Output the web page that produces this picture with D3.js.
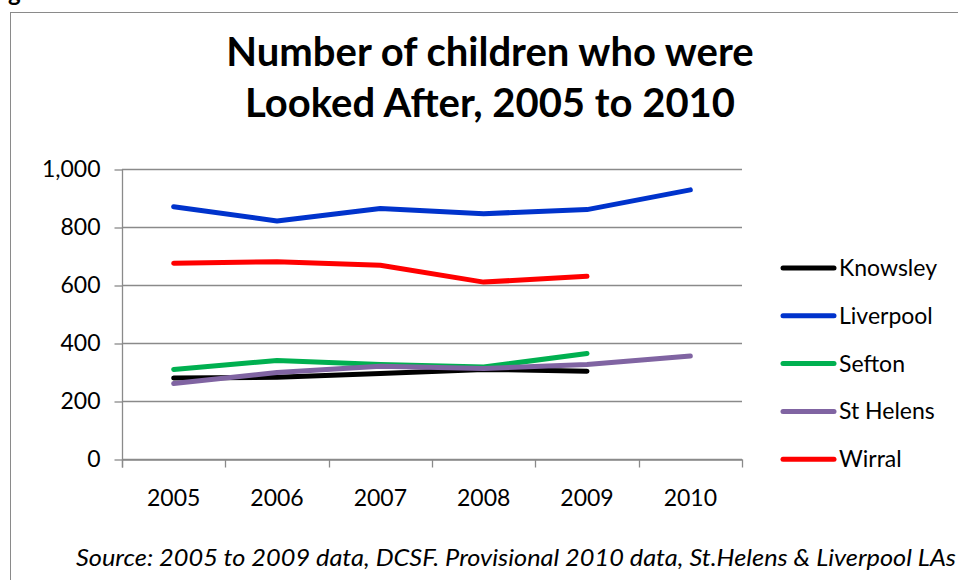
<!DOCTYPE html>
<html>
<head>
<meta charset="utf-8">
<title>Number of children who were Looked After</title>
<script src="https://d3js.org/d3.v7.min.js"></script>
<style>
  body { margin: 0; background: #fff; }
  text { font-family: Lato, "Open Sans", sans-serif; fill: #000; }
</style>
</head>
<body>
<script>
// data
var years = ["2005", "2006", "2007", "2008", "2009", "2010"];
var seriesNames = ["Knowsley", "Liverpool", "Sefton", "St Helens", "Wirral"];
var seriesColors = ["#000000", "#0033cc", "#00b050", "#8064a2", "#ff0000"];
var knowsley = [279, 282, 295, 309, 303, null];
var liverpool = [870, 821, 864, 846, 860, 928];
var sefton = [309, 340, 326, 317, 364, null];
var stHelens = [260, 298, 320, 312, 326, 355];
var wirral = [675, 680, 668, 610, 630, null];
var yTicks = [0, 200, 400, 600, 800, 1000];

var allValues = [knowsley, liverpool, sefton, stHelens, wirral];

var W = 958, H = 580;
var svg = d3.select("body").append("svg")
  .attr("width", W).attr("height", H);

// chart frame (cut at right and bottom)
svg.append("rect")
  .attr("x", 10.5).attr("y", 12.5)
  .attr("width", 1000).attr("height", 1000)
  .attr("fill", "#fff").attr("stroke", "#8a8a8a").attr("stroke-width", 1);

// fragment of caption above the frame
svg.append("text").attr("x", 8).attr("y", 1)
  .attr("font-size", 24).attr("font-weight", "bold").text("g");

// title
var title = svg.append("text").attr("text-anchor", "middle")
  .attr("font-size", 40).attr("font-weight", "bold");
title.append("tspan").attr("x", 490).attr("y", 66).text("Number of children who were");
title.append("tspan").attr("x", 490).attr("y", 117).text("Looked After, 2005 to 2010");

var pLeft = 122, pRight = 742, pTop = 169, pBottom = 459;

var x = d3.scaleBand().domain(years).range([pLeft, pRight]);
var y = d3.scaleLinear().domain([0, 1000]).range([pBottom, pTop]);

// gridlines
svg.append("g").selectAll("line").data(yTicks).enter().append("line")
  .attr("x1", pLeft).attr("x2", pRight)
  .attr("y1", function(d){ return Math.round(y(d)) + 0.5; })
  .attr("y2", function(d){ return Math.round(y(d)) + 0.5; })
  .attr("stroke", "#8a8a8a").attr("stroke-width", 1.3);

// y axis
var yAxis = svg.append("g").attr("transform", "translate(" + (pLeft + 0.5) + ",0.5)")
  .call(d3.axisLeft(y).tickValues(yTicks).tickSize(8).tickPadding(14)
    .tickFormat(d3.format(",")));
yAxis.select(".domain").remove();
yAxis.append("line").attr("y1", y(1000) - 0.5).attr("y2", y(0) + 8)
  .attr("stroke", "#8a8a8a").attr("stroke-width", 1.3);
yAxis.selectAll(".tick line").attr("stroke", "#8a8a8a").attr("stroke-width", 1.3);
yAxis.selectAll("text").attr("font-size", 23).attr("font-family", "Lato, sans-serif").attr("fill", "#000");

// x axis
var xAxis = svg.append("g").attr("transform", "translate(0," + (pBottom + 0.5) + ")")
  .call(d3.axisBottom(x).tickSize(0).tickPadding(30));
xAxis.select(".domain").attr("stroke", "#8a8a8a").attr("stroke-width", 1.3);
xAxis.selectAll("text").attr("font-size", 23).attr("font-family", "Lato, sans-serif").attr("fill", "#000");
var bounds = years.map(function(d){ return x(d); }).concat([pRight]);
xAxis.selectAll(".bound").data(bounds).enter().append("line")
  .attr("x1", function(d){ return Math.round(d) + 0.5; })
  .attr("x2", function(d){ return Math.round(d) + 0.5; })
  .attr("y1", 0).attr("y2", 8)
  .attr("stroke", "#8a8a8a").attr("stroke-width", 1.3);

// lines
var line = d3.line()
  .defined(function(d){ return d != null; })
  .x(function(d, i){ return x(years[i]) + x.bandwidth() / 2; })
  .y(function(d){ return y(d); });

allValues.forEach(function(vals, k) {
  svg.append("path").datum(vals)
    .attr("d", line)
    .attr("fill", "none")
    .attr("stroke", seriesColors[k])
    .attr("stroke-width", 5)
    .attr("stroke-linecap", "round")
    .attr("stroke-linejoin", "round");
});

// legend
var legend = svg.append("g");
seriesNames.forEach(function(name, k) {
  var ly = 268 + k * 47.8;
  legend.append("line")
    .attr("x1", 783).attr("x2", 834).attr("y1", ly).attr("y2", ly)
    .attr("stroke", seriesColors[k]).attr("stroke-width", 5)
    .attr("stroke-linecap", "round");
  legend.append("text").attr("x", 839).attr("y", ly + 8)
    .attr("font-size", 23).text(name);
});

// source note
svg.append("text").attr("x", 956).attr("y", 566)
  .attr("text-anchor", "end").attr("font-size", 23).attr("font-style", "italic")
  .attr("textLength", 880).attr("lengthAdjust", "spacingAndGlyphs")
  .text("Source: 2005 to 2009 data, DCSF. Provisional 2010 data, St.Helens & Liverpool LAs");
</script>
</body>
</html>
